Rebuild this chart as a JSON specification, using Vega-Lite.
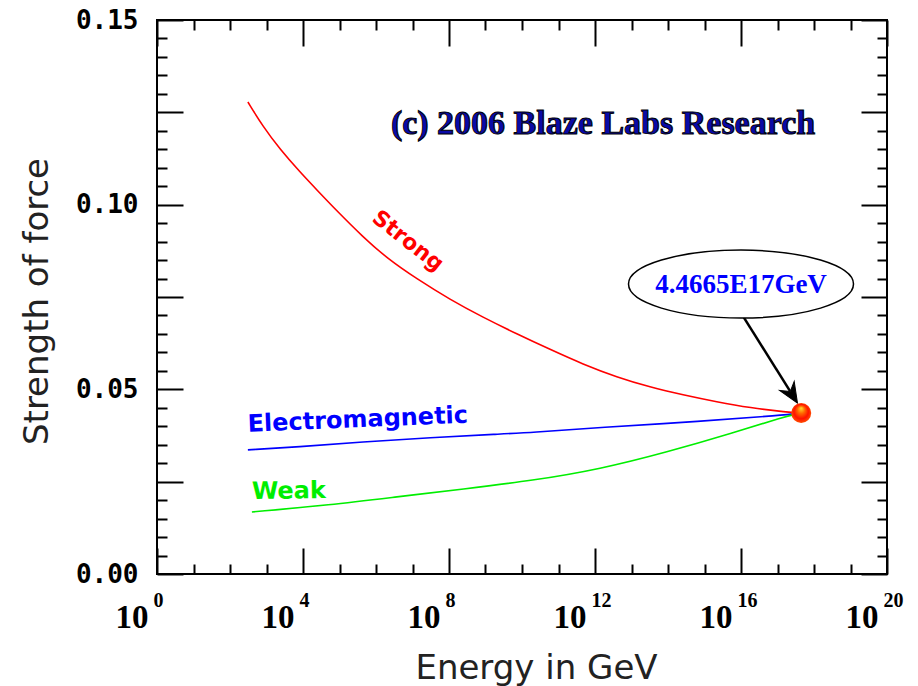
{
  "$schema": "https://vega.github.io/schema/vega-lite/v6.json",
  "width": 730,
  "height": 554,
  "autosize": {"type": "none"},
  "padding": {"left": 157, "top": 20, "right": 31, "bottom": 112},
  "background": "white",
  "config": {
    "view": {"stroke": "black", "strokeWidth": 2},
    "axis": {"domain": false, "grid": false}
  },
  "datasets": {
    "forces": [
      {"force": "Strong", "E": 309, "S": 0.1278},
      {"force": "Strong", "E": 794, "S": 0.1212},
      {"force": "Strong", "E": 2344, "S": 0.115},
      {"force": "Strong", "E": 8318, "S": 0.1088},
      {"force": "Strong", "E": 23988, "S": 0.104},
      {"force": "Strong", "E": 85114, "S": 0.0983},
      {"force": "Strong", "E": 436516, "S": 0.0913},
      {"force": "Strong", "E": 1995262, "S": 0.0855},
      {"force": "Strong", "E": 1.318e7, "S": 0.0799},
      {"force": "Strong", "E": 1.072e8, "S": 0.0743},
      {"force": "Strong", "E": 8.511e8, "S": 0.0695},
      {"force": "Strong", "E": 7.244e9, "S": 0.065},
      {"force": "Strong", "E": 5.888e10, "S": 0.0608},
      {"force": "Strong", "E": 4.677e11, "S": 0.0568},
      {"force": "Strong", "E": 3.981e12, "S": 0.0533},
      {"force": "Strong", "E": 3.236e13, "S": 0.0506},
      {"force": "Strong", "E": 2.57e14, "S": 0.0485},
      {"force": "Strong", "E": 2.188e15, "S": 0.0466},
      {"force": "Strong", "E": 1.778e16, "S": 0.045},
      {"force": "Strong", "E": 1.82e17, "S": 0.0438},
      {"force": "Strong", "E": 4.4665e17, "S": 0.0436},
      {"force": "Electromagnetic", "E": 309, "S": 0.0336},
      {"force": "Electromagnetic", "E": 6918, "S": 0.0344},
      {"force": "Electromagnetic", "E": 436516, "S": 0.0358},
      {"force": "Electromagnetic", "E": 3.02e7, "S": 0.0369},
      {"force": "Electromagnetic", "E": 2.512e9, "S": 0.0379},
      {"force": "Electromagnetic", "E": 1.66e10, "S": 0.0383},
      {"force": "Electromagnetic", "E": 1.38e12, "S": 0.0397},
      {"force": "Electromagnetic", "E": 7.586e14, "S": 0.0413},
      {"force": "Electromagnetic", "E": 1.413e17, "S": 0.043},
      {"force": "Electromagnetic", "E": 4.4665e17, "S": 0.0436},
      {"force": "Weak", "E": 398, "S": 0.0168},
      {"force": "Weak", "E": 54954, "S": 0.0187},
      {"force": "Weak", "E": 3.802e6, "S": 0.0209},
      {"force": "Weak", "E": 2.399e8, "S": 0.023},
      {"force": "Weak", "E": 1.995e10, "S": 0.0253},
      {"force": "Weak", "E": 1.38e12, "S": 0.0284},
      {"force": "Weak", "E": 9.333e13, "S": 0.033},
      {"force": "Weak", "E": 6.026e15, "S": 0.0382},
      {"force": "Weak", "E": 1.413e17, "S": 0.0425},
      {"force": "Weak", "E": 4.4665e17, "S": 0.0436}
    ]
  },
  "resolve": {"axis": {"x": "independent", "y": "independent"}},
  "layer": [
    {
      "data": {"name": "forces"},
      "mark": {"type": "line", "interpolate": "basis", "strokeWidth": 1.6, "clip": false},
      "encoding": {
        "x": {
          "field": "E", "type": "quantitative",
          "scale": {"type": "log", "domain": [1, 1e20], "nice": false},
          "axis": {
            "orient": "bottom",
            "values": [1, 1e4, 1e8, 1e12, 1e16, 1e20],
            "ticks": false, "tickSize": 0, "domain": false, "grid": false,
            "labelExpr": "'10'",
            "labelFont": "Liberation Serif", "labelFontWeight": "bold", "labelFontSize": 33,
            "labelColor": "black", "labelAlign": "right", "labelBaseline": "alphabetic",
            "labelPadding": 53, "labelOffset": -9,
            "labelFlush": false, "labelOverlap": false, "labelBound": false,
            "title": "Energy in GeV",
            "titleFont": "DejaVu Sans", "titleFontSize": 34, "titleFontWeight": "normal",
            "titleColor": "#222222", "titleX": 379, "titleY": 104,
            "titleBaseline": "alphabetic", "titleAlign": "center", "titleAnchor": null
          }
        },
        "y": {
          "field": "S", "type": "quantitative",
          "scale": {"domain": [0, 0.15], "nice": false, "zero": false},
          "axis": {
            "orient": "left",
            "values": [0, 0.05, 0.1, 0.15],
            "format": ".2f",
            "ticks": false, "tickSize": 0, "domain": false, "grid": false,
            "labelFont": "DejaVu Sans Mono", "labelFontWeight": "bold", "labelFontSize": 26,
            "labelColor": "black", "labelPadding": 19, "labelBaseline": "middle",
            "labelFlush": false, "labelOverlap": false, "labelBound": false,
            "title": "Strength of force",
            "titleFont": "DejaVu Sans", "titleFontSize": 34, "titleFontWeight": "normal",
            "titleColor": "#222222", "titleAngle": 270, "titleX": -120, "titleY": 281,
            "titleBaseline": "middle", "titleAlign": "center", "titleAnchor": null
          }
        },
        "color": {
          "field": "force", "type": "nominal",
          "scale": {"domain": ["Strong", "Electromagnetic", "Weak"], "range": ["#ff0000", "#0000ff", "#00ee00"]},
          "legend": null
        }
      }
    },
    {
      "data": {"name": "forces"},
      "mark": {"type": "line", "opacity": 0},
      "encoding": {
        "x": {
          "field": "E", "type": "quantitative",
          "scale": {"type": "log", "domain": [1, 1e20], "nice": false},
          "axis": {
            "orient": "bottom",
            "values": [1, 1e4, 1e8, 1e12, 1e16, 1e20],
            "ticks": false, "tickSize": 0, "domain": false, "grid": false,
            "labelExpr": "'' + round(log(datum.value) / LN10)",
            "labelFont": "Liberation Serif", "labelFontWeight": "bold", "labelFontSize": 20,
            "labelColor": "black", "labelAlign": "left", "labelBaseline": "alphabetic",
            "labelPadding": 32, "labelOffset": -4,
            "labelFlush": false, "labelOverlap": false, "labelBound": false,
            "title": null
          }
        },
        "y": {"field": "S", "type": "quantitative", "scale": {"domain": [0, 0.15], "nice": false, "zero": false}, "axis": null}
      }
    },
    {
      "data": {"name": "forces"},
      "mark": {"type": "line", "opacity": 0},
      "encoding": {
        "x": {
          "field": "E", "type": "quantitative",
          "scale": {"type": "log", "domain": [1, 1e20], "nice": false},
          "axis": {
            "orient": "bottom",
            "values": [1, 10, 100, 1000, 1e4, 1e5, 1e6, 1e7, 1e8, 1e9, 1e10, 1e11, 1e12, 1e13, 1e14, 1e15, 1e16, 1e17, 1e18, 1e19, 1e20],
            "labels": false, "ticks": true, "domain": false, "grid": false,
            "tickColor": "black", "tickWidth": 2,
            "tickSize": {"condition": {"test": "abs(log(datum.value)/LN10/4 - round(log(datum.value)/LN10/4)) < 0.01", "value": -26}, "value": -10},
            "title": null
          }
        },
        "y": {
          "field": "S", "type": "quantitative",
          "scale": {"domain": [0, 0.15], "nice": false, "zero": false},
          "axis": {
            "orient": "left",
            "values": [0, 0.005, 0.01, 0.015, 0.02, 0.025, 0.03, 0.035, 0.04, 0.045, 0.05, 0.055, 0.06, 0.065, 0.07, 0.075, 0.08, 0.085, 0.09, 0.095, 0.1, 0.105, 0.11, 0.115, 0.12, 0.125, 0.13, 0.135, 0.14, 0.145, 0.15],
            "labels": false, "ticks": true, "domain": false, "grid": false,
            "tickColor": "black", "tickWidth": 2,
            "tickSize": {"condition": {"test": "abs(datum.value*40 - round(datum.value*40)) < 0.01", "value": -26}, "value": -10},
            "title": null
          }
        }
      }
    },
    {
      "data": {"name": "forces"},
      "mark": {"type": "line", "opacity": 0},
      "encoding": {
        "x": {
          "field": "E", "type": "quantitative",
          "scale": {"type": "log", "domain": [1, 1e20], "nice": false},
          "axis": {
            "orient": "top",
            "values": [1, 10, 100, 1000, 1e4, 1e5, 1e6, 1e7, 1e8, 1e9, 1e10, 1e11, 1e12, 1e13, 1e14, 1e15, 1e16, 1e17, 1e18, 1e19, 1e20],
            "labels": false, "ticks": true, "domain": false, "grid": false,
            "tickColor": "black", "tickWidth": 2,
            "tickSize": {"condition": {"test": "abs(log(datum.value)/LN10/4 - round(log(datum.value)/LN10/4)) < 0.01", "value": -26}, "value": -10},
            "title": null
          }
        },
        "y": {
          "field": "S", "type": "quantitative",
          "scale": {"domain": [0, 0.15], "nice": false, "zero": false},
          "axis": {
            "orient": "right",
            "values": [0, 0.005, 0.01, 0.015, 0.02, 0.025, 0.03, 0.035, 0.04, 0.045, 0.05, 0.055, 0.06, 0.065, 0.07, 0.075, 0.08, 0.085, 0.09, 0.095, 0.1, 0.105, 0.11, 0.115, 0.12, 0.125, 0.13, 0.135, 0.14, 0.145, 0.15],
            "labels": false, "ticks": true, "domain": false, "grid": false,
            "tickColor": "black", "tickWidth": 2,
            "tickSize": {"condition": {"test": "abs(datum.value*40 - round(datum.value*40)) < 0.01", "value": -26}, "value": -10},
            "title": null
          }
        }
      }
    },
    {
      "data": {"values": [{"label": "Strong", "E": 7.53e6, "S": 0.0902}]},
      "mark": {"type": "text", "font": "DejaVu Sans", "fontWeight": "bold", "fontSize": 22, "color": "#ff0000", "angle": 38, "align": "center", "baseline": "middle"},
      "encoding": {
        "x": {"field": "E", "type": "quantitative", "scale": {"type": "log", "domain": [1, 1e20], "nice": false}, "axis": null},
        "y": {"field": "S", "type": "quantitative", "scale": {"domain": [0, 0.15], "nice": false, "zero": false}, "axis": null},
        "text": {"field": "label"}
      }
    },
    {
      "data": {"values": [{"label": "Electromagnetic", "E": 309, "S": 0.0385}]},
      "mark": {"type": "text", "font": "DejaVu Sans", "fontWeight": "bold", "fontSize": 24, "color": "#0000ff", "angle": 357.6, "align": "left", "baseline": "alphabetic"},
      "encoding": {
        "x": {"field": "E", "type": "quantitative", "scale": {"type": "log", "domain": [1, 1e20], "nice": false}, "axis": null},
        "y": {"field": "S", "type": "quantitative", "scale": {"domain": [0, 0.15], "nice": false, "zero": false}, "axis": null},
        "text": {"field": "label"}
      }
    },
    {
      "data": {"values": [{"label": "Weak", "E": 398, "S": 0.0203}]},
      "mark": {"type": "text", "font": "DejaVu Sans", "fontWeight": "bold", "fontSize": 24, "color": "#00ee00", "angle": 359.3, "align": "left", "baseline": "alphabetic"},
      "encoding": {
        "x": {"field": "E", "type": "quantitative", "scale": {"type": "log", "domain": [1, 1e20], "nice": false}, "axis": null},
        "y": {"field": "S", "type": "quantitative", "scale": {"domain": [0, 0.15], "nice": false, "zero": false}, "axis": null},
        "text": {"field": "label"}
      }
    },
    {
      "data": {"values": [{"label": "(c) 2006 Blaze Labs Research", "E": 1.66e12, "S": 0.1218}]},
      "mark": {"type": "text", "font": "Liberation Serif", "fontWeight": "bold", "fontSize": 34, "fill": "#0a0aa8", "stroke": "black", "strokeWidth": 1, "align": "center", "baseline": "middle"},
      "encoding": {
        "x": {"field": "E", "type": "quantitative", "scale": {"type": "log", "domain": [1, 1e20], "nice": false}, "axis": null},
        "y": {"field": "S", "type": "quantitative", "scale": {"domain": [0, 0.15], "nice": false, "zero": false}, "axis": null},
        "text": {"field": "label"}
      }
    },
    {
      "data": {"values": [{"E": 1.122e16, "S": 0.0699, "E2": 2.188e17, "S2": 0.0496}]},
      "mark": {"type": "rule", "color": "black", "strokeWidth": 2.5},
      "encoding": {
        "x": {"field": "E", "type": "quantitative", "scale": {"type": "log", "domain": [1, 1e20], "nice": false}, "axis": null},
        "y": {"field": "S", "type": "quantitative", "scale": {"domain": [0, 0.15], "nice": false, "zero": false}, "axis": null},
        "x2": {"field": "E2"},
        "y2": {"field": "S2"}
      }
    },
    {
      "data": {"values": [{"E": 2.188e17, "S": 0.0496}]},
      "mark": {"type": "point", "shape": "M0,1L-0.6,-0.4L0,0.05L0.6,-0.4Z", "filled": true, "fill": "black", "stroke": "black", "strokeWidth": 1, "opacity": 1, "size": 820, "angle": 328.2},
      "encoding": {
        "x": {"field": "E", "type": "quantitative", "scale": {"type": "log", "domain": [1, 1e20], "nice": false}, "axis": null},
        "y": {"field": "S", "type": "quantitative", "scale": {"domain": [0, 0.15], "nice": false, "zero": false}, "axis": null}
      }
    },
    {
      "data": {"values": [{"E": 1e16, "S": 0.0785}]},
      "mark": {"type": "point", "shape": "M-1,0A1,0.302,0,1,1,1,0A1,0.302,0,1,1,-1,0Z", "filled": true, "fill": "white", "stroke": "black", "strokeWidth": 1.5, "opacity": 1, "size": 50625},
      "encoding": {
        "x": {"field": "E", "type": "quantitative", "scale": {"type": "log", "domain": [1, 1e20], "nice": false}, "axis": null},
        "y": {"field": "S", "type": "quantitative", "scale": {"domain": [0, 0.15], "nice": false, "zero": false}, "axis": null}
      }
    },
    {
      "data": {"values": [{"label": "4.4665E17GeV", "E": 1e16, "S": 0.0783}]},
      "mark": {"type": "text", "font": "Liberation Serif", "fontWeight": "bold", "fontSize": 27, "color": "#0000ff", "align": "center", "baseline": "middle"},
      "encoding": {
        "x": {"field": "E", "type": "quantitative", "scale": {"type": "log", "domain": [1, 1e20], "nice": false}, "axis": null},
        "y": {"field": "S", "type": "quantitative", "scale": {"domain": [0, 0.15], "nice": false, "zero": false}, "axis": null},
        "text": {"field": "label"}
      }
    },
    {
      "data": {"values": [{"E": 4.4665e17, "S": 0.0436}]},
      "mark": {"type": "point", "shape": "circle", "filled": true, "opacity": 1, "size": 400, "strokeWidth": 0,
        "fill": {"gradient": "radial", "x1": 0.5, "y1": 0.25, "x2": 0.5, "y2": 0.55, "r1": 0, "r2": 0.6,
          "stops": [{"offset": 0, "color": "#ffe030"}, {"offset": 0.3, "color": "#ff6a00"}, {"offset": 0.6, "color": "#ff1000"}, {"offset": 1, "color": "#ff7a00"}]}},
      "encoding": {
        "x": {"field": "E", "type": "quantitative", "scale": {"type": "log", "domain": [1, 1e20], "nice": false}, "axis": null},
        "y": {"field": "S", "type": "quantitative", "scale": {"domain": [0, 0.15], "nice": false, "zero": false}, "axis": null}
      }
    }
  ]
}
